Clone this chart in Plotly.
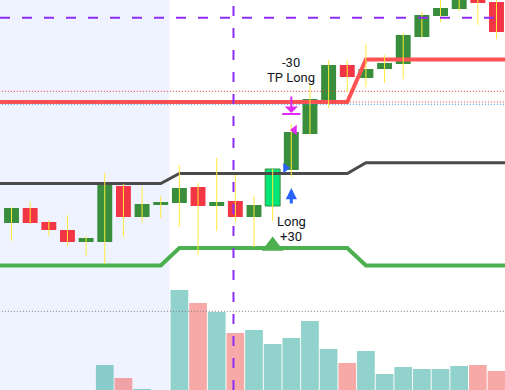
import plotly.graph_objects as go

# ---- data (price units, bar index) ----
bars = list(range(27))
opens  = [104.7,106.2,104.8,104.0,102.8,102.8,108.4,105.3,106.5,106.7,108.3,106.4,106.9,105.3,106.4,110.0,113.6,117.0,120.5,119.2,120.1,120.6,123.3,125.4,126.1,127.6,126.8]
highs  = [106.3,106.8,105.0,105.5,103.4,109.7,108.6,108.3,107.4,110.5,108.7,111.2,109.5,107.4,110.1,114.6,118.5,121.0,121.0,122.6,121.5,123.7,125.8,127.5,128.5,128.3,127.3]
lows   = [102.9,104.6,103.4,102.4,101.4,100.6,103.3,104.8,105.2,104.3,101.5,103.9,104.8,102.3,104.9,109.3,113.6,116.2,117.8,118.3,118.7,119.1,123.3,124.8,125.9,124.5,123.1]
closes = [106.2,104.7,104.0,102.8,103.2,108.5,105.3,106.6,106.8,108.2,106.4,106.8,105.3,106.5,110.1,113.8,117.1,120.5,119.3,120.1,120.7,123.5,125.5,126.2,127.8,126.7,123.8]
volumes = [0,0,0,0,0,250,120,10,0,1000,870,780,570,600,460,520,690,410,270,390,160,230,210,210,240,250,190]

# indicator lines (including one off-screen bar on each side)
line_bars = list(range(-1, 28))
upper_red = [116.8]*20 + [121.05]*9
mid_black = [108.65]*10 + [109.65]*10 + [110.73]*9
lower_green = [100.45]*10 + [102.2]*10 + [100.45]*9

level_red_dots = [117.87, 116.8]
level_blue_dot = 116.57
volume_avg = 787
purple_price = 125.23
purple_bar = 11.9
shade_end_bar = 8.47

signal_bar = 14
entry_bar = 15
entry_price_up = 102.4
entry_tri_price = 110.2
exit_tri_price = 114.0
long_arrow = (106.5, 108.2)
tp_arrow = (117.5, 115.7)
tp_bar_price = 115.6
label_tp = [("-30", 120.8), ("TP Long", 119.3)]
label_long = [("Long", 104.9), ("+30", 103.4)]

GREEN = "#388E3C"
RED = "#F23645"
TEAL_V = "rgba(38,166,154,0.5)"
RED_V = "rgba(239,83,80,0.5)"
PURPLE = "#8E2DF5"
MAGENTA = "#E22AF5"
BLUE = "#2962FF"
TEXT = "#131722"

fig = go.Figure()

# volume (primary y axis)
vcol = [TEAL_V if c >= o else RED_V for o, c in zip(opens, closes)]
fig.add_trace(go.Bar(x=bars, y=volumes, width=0.95, marker=dict(color=vcol, line=dict(width=0)),
                     yaxis="y", hoverinfo="skip"))
fig.add_trace(go.Scatter(x=[line_bars[0], line_bars[-1]], y=[volume_avg]*2, mode="lines",
                         line=dict(color="#787B86", width=1, dash="1px,2px"), yaxis="y", hoverinfo="skip"))

# indicator lines (price axis)
fig.add_trace(go.Scatter(x=line_bars, y=upper_red, mode="lines", line=dict(color="#FF5252", width=4), yaxis="y2", hoverinfo="skip"))
fig.add_trace(go.Scatter(x=line_bars, y=mid_black, mode="lines", line=dict(color="#4A4A4A", width=3), yaxis="y2", hoverinfo="skip"))
fig.add_trace(go.Scatter(x=line_bars, y=lower_green, mode="lines", line=dict(color="#4CAF50", width=4), yaxis="y2", hoverinfo="skip"))
for lv in level_red_dots:
    fig.add_trace(go.Scatter(x=[line_bars[0], line_bars[-1]], y=[lv]*2, mode="lines",
                             line=dict(color="#E53935", width=1, dash="1px,2px"), yaxis="y2", hoverinfo="skip"))
fig.add_trace(go.Scatter(x=[line_bars[0], line_bars[-1]], y=[level_blue_dot]*2, mode="lines",
                         line=dict(color="#2196F3", width=1, dash="1px,2px"), yaxis="y2", hoverinfo="skip"))

# wicks
wx, wy = [], []
for b, h, l in zip(bars, highs, lows):
    wx += [b, b, None]
    wy += [h, l, None]
fig.add_trace(go.Scatter(x=wx, y=wy, mode="lines", line=dict(color="#FFEB3B", width=1), yaxis="y2", hoverinfo="skip"))

# bodies
def body(idx, fill, lc=None, lw=0):
    fig.add_trace(go.Bar(x=[bars[i] for i in idx], base=[opens[i] for i in idx],
                         y=[closes[i]-opens[i] for i in idx], width=0.8,
                         marker=dict(color=fill, line=dict(color=lc or fill, width=lw)),
                         yaxis="y2", hoverinfo="skip"))
up = [i for i in bars if closes[i] >= opens[i] and i != signal_bar]
dn = [i for i in bars if closes[i] < opens[i]]
body(up, GREEN)
body(dn, RED)
body([signal_bar], "#00E676", GREEN, 1)

# markers
fig.add_trace(go.Scatter(x=[signal_bar], y=[entry_price_up], mode="markers",
                         marker=dict(symbol="triangle-up", size=19, color="#4CAF50"), yaxis="y2", hoverinfo="skip"))
fig.add_trace(go.Scatter(x=[entry_bar-0.31], y=[entry_tri_price], mode="markers",
                         marker=dict(symbol="triangle-right", size=9, color=BLUE), yaxis="y2", hoverinfo="skip"))
fig.add_trace(go.Scatter(x=[entry_bar+0.17], y=[exit_tri_price], mode="markers",
                         marker=dict(symbol="triangle-left", size=9, color=MAGENTA), yaxis="y2", hoverinfo="skip"))
fig.add_trace(go.Scatter(x=[entry_bar], y=[tp_bar_price], mode="markers",
                         marker=dict(symbol="line-ew", size=13, line=dict(color=MAGENTA, width=2)), yaxis="y2", hoverinfo="skip"))

annotations = []
annotations.append(dict(x=entry_bar, y=long_arrow[1], ax=entry_bar, ay=long_arrow[0], xref="x", yref="y2",
                        axref="x", ayref="y2", showarrow=True, arrowhead=2, arrowwidth=3, arrowsize=0.75,
                        arrowcolor=BLUE, text=""))
annotations.append(dict(x=entry_bar, y=tp_arrow[1], ax=entry_bar, ay=tp_arrow[0], xref="x", yref="y2",
                        axref="x", ayref="y2", showarrow=True, arrowhead=1, arrowwidth=2, arrowsize=1.1,
                        arrowcolor=MAGENTA, text=""))
for t, p in label_tp + label_long:
    annotations.append(dict(x=entry_bar, y=p, xref="x", yref="y2", text=t, showarrow=False,
                            font=dict(family="Roboto", size=13, color=TEXT)))

shapes = [
    dict(type="rect", xref="x", x0=-1, x1=shade_end_bar, yref="paper", y0=0, y1=1,
         fillcolor="rgba(41,98,255,0.08)", line=dict(width=0), layer="below"),
    dict(type="line", xref="paper", x0=0, x1=1, yref="y2", y0=purple_price, y1=purple_price,
         line=dict(color=PURPLE, width=2, dash="10px,12px"), layer="above"),
    dict(type="line", xref="x", x0=purple_bar, x1=purple_bar, yref="paper", y0=0, y1=1,
         line=dict(color=PURPLE, width=2, dash="10px,12px"), layer="above"),
]

fig.update_layout(
    width=505, height=390, margin=dict(l=0, r=0, t=0, b=0),
    paper_bgcolor="white", plot_bgcolor="white", showlegend=False, barmode="overlay",
    xaxis=dict(range=[-0.617, 26.456], visible=False, showgrid=False, zeroline=False),
    yaxis=dict(range=[0, 3900], visible=False, showgrid=False, zeroline=False),
    yaxis2=dict(range=[88, 127], overlaying="y", visible=False, showgrid=False, zeroline=False),
    shapes=shapes, annotations=annotations,
)

fig.write_html("out.html")
